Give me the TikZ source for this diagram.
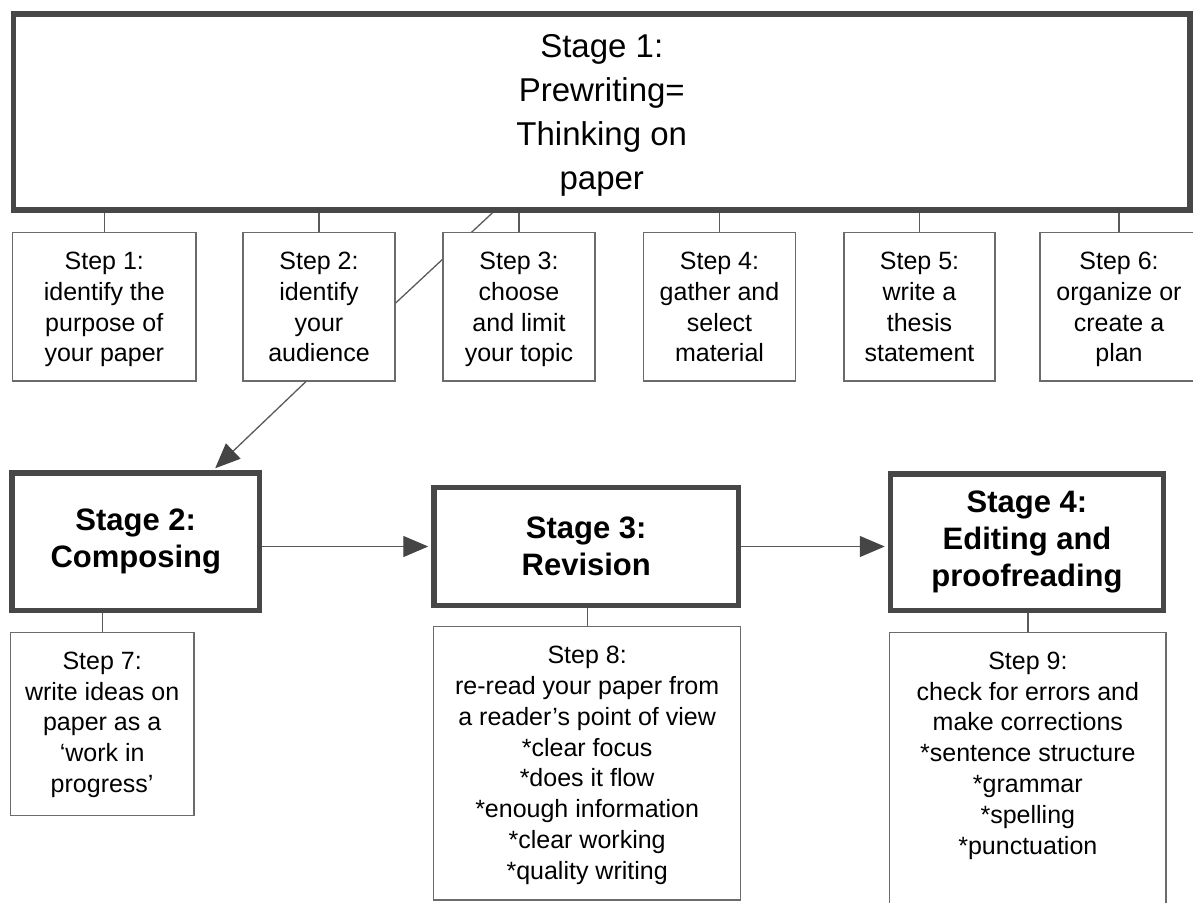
\documentclass[tikz,border=0pt]{standalone}
\usepackage{fontspec}
\setmainfont{Liberation Sans}
\usetikzlibrary{arrows.meta,calc}
\definecolor{stageline}{HTML}{474747}
\definecolor{stepline}{HTML}{6B6B6B}
\definecolor{linkline}{HTML}{5A5A5A}
\definecolor{tipfill}{HTML}{454545}
\tikzset{
 stagebox/.style={draw=stageline, line width=5.5pt, fill=white, inner sep=0pt, align=center,
   font=\fontsize{31}{37}\selectfont\bfseries},
 firststage/.style={draw=stageline, line width=5.5pt, fill=white, inner sep=0pt, align=center,
   font=\fontsize{33}{44.3}\selectfont, text depth=0pt},
 stepbox/.style={draw=stepline, line width=1.5pt, fill=white, inner sep=0pt},
 steptext/.style={inner sep=0pt, align=center, anchor=north, font=\fontsize{25}{30.8}\selectfont,
   execute at begin node=\strut},
 link/.style={draw=linkline, line width=1.3pt},
 arrowlink/.style={link, -{Triangle[length=25pt,width=21pt,color=tipfill]}},
}
\begin{document}
\begin{tikzpicture}[x=1pt,y=-1pt]
\useasboundingbox (0,0) rectangle (1193,902);
\clip (0,0) rectangle (1193,902);
% Stage 1
\node[firststage, minimum width=1176.5pt, minimum height=196pt] (st1) at (601.75,112)
  {Stage 1:\\Prewriting=\\Thinking on\\paper};
% Steps 1-2
\node[stepbox, minimum width=183.4pt, minimum height=148.3pt] (s1) at (104.3,306.8) {};
\node[steptext] (t1) at ($(s1.north)+(0,20)$) {Step 1:\\identify the\\purpose of\\your paper};
\node[stepbox, minimum width=152pt, minimum height=148.3pt] (s2) at (319,306.8) {};
\node[steptext] (t2) at ($(s2.north)+(0,20)$) {Step 2:\\identify\\your\\audience};
% diagonal link from Stage 1 to Step 2 (passes behind Step 3)
\draw[link] ($(st1.south west)!0.4076!(st1.south east)$) -- ($(s2.north east)!0.474!(s2.south east)$);
% Steps 3-6
\node[stepbox, minimum width=152pt, minimum height=148.3pt] (s3) at (519,306.8) {};
\node[steptext] (t3) at ($(s3.north)+(0,20)$) {Step 3:\\choose\\and limit\\your topic};
\node[stepbox, minimum width=152pt, minimum height=148.3pt] (s4) at (719.5,306.8) {};
\node[steptext] (t4) at ($(s4.north)+(0,20)$) {Step 4:\\gather and\\select\\material};
\node[stepbox, minimum width=151pt, minimum height=148.3pt] (s5) at (919.5,306.8) {};
\node[steptext] (t5) at ($(s5.north)+(0,20)$) {Step 5:\\write a\\thesis\\statement};
\node[stepbox, minimum width=158pt, minimum height=148.3pt] (s6) at (1119,306.8) {};
\node[steptext] (t6) at ($(s6.north)+(0,20)$) {Step 6:\\organize or\\create a\\plan};
\foreach \n in {s1,s2,s3,s4,s5,s6}
  \draw[link] (\n.north) -- (\n.north |- st1.south);
% Stages 2-4
\node[stagebox, minimum width=247.5pt, minimum height=137.5pt] (st2) at (135.75,541.75)
  {Stage 2:\\Composing};
\node[stagebox, minimum width=304.5pt, minimum height=118pt] (st3) at (586.25,546.5)
  {Stage 3:\\Revision};
\node[stagebox, minimum width=273pt, minimum height=136.5pt] (st4) at (1027,542.25)
  {Stage 4:\\Editing and\\proofreading};
% Steps 7-9
\node[stepbox, minimum width=183.7pt, minimum height=183.4pt] (s7) at (102.15,724) {};
\node[steptext] (t7) at ($(s7.north)+(0,20)$)
  {Step 7:\\write ideas on\\paper as a\\`work in\\progress'};
\node[stepbox, minimum width=307pt, minimum height=273.3pt] (s8) at (587.15,763.35) {};
\node[steptext] (t8) at ($(s8.north)+(0,20)$)
  {Step 8:\\re-read your paper from\\a reader's point of view\\*clear focus\\*does it flow\\*enough information\\*clear working\\*quality writing};
\node[stepbox, minimum width=276.3pt, minimum height=287.4pt] (s9) at (1027.85,776) {};
\node[steptext] (t9) at ($(s9.north)+(0,20)$)
  {Step 9:\\check for errors and\\make corrections\\*sentence structure\\*grammar\\*spelling\\*punctuation};
\draw[link] (s7.north) -- (s7.north |- st2.south);
\draw[link] (s8.north) -- (s8.north |- st3.south);
\draw[link] (s9.north) -- (s9.north |- st4.south);
% arrows
\draw[arrowlink] ($(s2.south west)!0.414!(s2.south east)$) -- ($(st2.north west)!0.814!(st2.north east)+(0,-2)$);
\draw[arrowlink] (st3.west -| st2.east) -- ($(st3.west)+(-3,0)$);
\draw[arrowlink] (st3.east) -- ($(st3.east -| st4.west)+(-3,0)$);
\end{tikzpicture}
\end{document}
